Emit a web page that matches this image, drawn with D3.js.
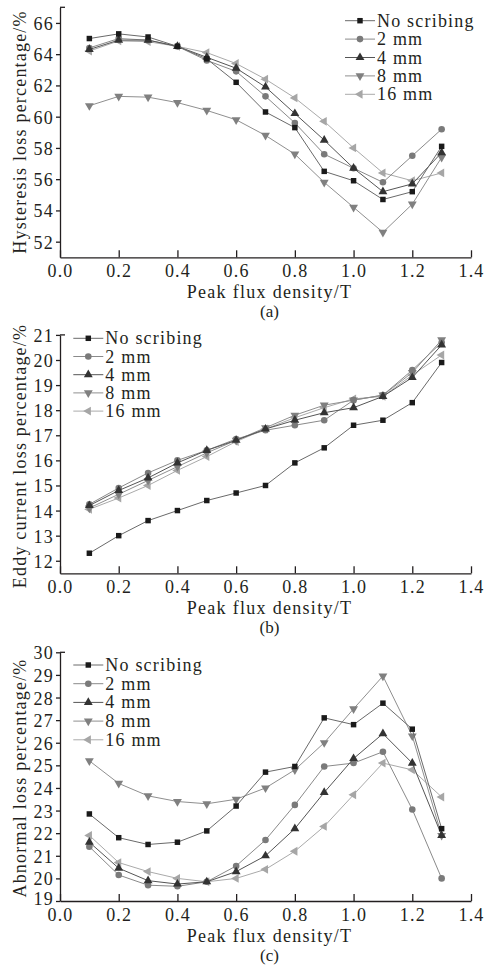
<!DOCTYPE html>
<html>
<head>
<meta charset="utf-8">
<script src="https://cdn.jsdelivr.net/npm/d3@7"></script>
<style>
  body { margin: 0; background: #fff; }
  svg text { font-family: "Liberation Serif", "Times New Roman", serif; fill: #231f20; }
</style>
</head>
<body>
<svg id="chart"></svg>
<script>
const xVals = [0.1, 0.2, 0.3, 0.4, 0.5, 0.6, 0.7, 0.8, 0.9, 1.0, 1.1, 1.2, 1.3];
const xTicks = [0.0, 0.2, 0.4, 0.6, 0.8, 1.0, 1.2, 1.4];
const seriesNames = ["No scribing", "2 mm", "4 mm", "8 mm", "16 mm"];

// (a) hysteresis loss
const hystNone = [65.0, 65.3, 65.1, 64.5, 63.7, 62.2, 60.3, 59.3, 56.5, 55.9, 54.7, 55.2, 58.1];
const hyst2 = [64.4, 65.0, 64.9, 64.5, 63.6, 62.9, 61.3, 59.6, 57.6, 56.7, 55.8, 57.5, 59.2];
const hyst4 = [64.3, 64.9, 64.9, 64.5, 63.8, 63.1, 61.9, 60.2, 58.5, 56.7, 55.2, 55.7, 57.7];
const hyst8 = [60.7, 61.3, 61.25, 60.9, 60.4, 59.8, 58.8, 57.6, 55.8, 54.2, 52.6, 54.4, 57.4];
const hyst16 = [64.2, 64.85, 64.8, 64.5, 64.1, 63.4, 62.4, 61.2, 59.7, 58.0, 56.4, 55.9, 56.4];
const hystTicks = [52, 54, 56, 58, 60, 62, 64, 66];

// (b) eddy current loss
const eddyNone = [12.3, 13.0, 13.6, 14.0, 14.4, 14.7, 15.0, 15.9, 16.5, 17.4, 17.6, 18.3, 19.9];
const eddy2 = [14.25, 14.9, 15.5, 16.0, 16.4, 16.85, 17.2, 17.4, 17.6, 18.4, 18.6, 19.6, 20.7];
const eddy4 = [14.2, 14.8, 15.3, 15.9, 16.4, 16.8, 17.25, 17.6, 17.9, 18.1, 18.55, 19.3, 20.6];
const eddy8 = [14.1, 14.65, 15.2, 15.75, 16.3, 16.8, 17.3, 17.8, 18.2, 18.4, 18.6, 19.5, 20.8];
const eddy16 = [14.05, 14.5, 15.0, 15.6, 16.15, 16.75, 17.25, 17.7, 18.1, 18.45, 18.55, 19.4, 20.2];
const eddyTicks = [12, 13, 14, 15, 16, 17, 18, 19, 20, 21];

// (c) abnormal loss
const abnNone = [22.85, 21.8, 21.5, 21.6, 22.1, 23.2, 24.7, 24.95, 27.1, 26.8, 27.75, 26.6, 22.2];
const abn2 = [21.4, 20.15, 19.7, 19.65, 19.85, 20.55, 21.7, 23.25, 24.95, 25.1, 25.6, 23.05, 20.0];
const abn4 = [21.6, 20.45, 19.9, 19.75, 19.85, 20.3, 21.0, 22.2, 23.8, 25.3, 26.4, 25.1, 21.9];
const abn8 = [25.2, 24.2, 23.65, 23.4, 23.3, 23.5, 24.0, 24.8, 26.0, 27.5, 28.95, 26.3, 21.9];
const abn16 = [21.9, 20.7, 20.3, 20.0, 19.85, 20.0, 20.4, 21.2, 22.3, 23.7, 25.1, 24.8, 23.6];
const abnTicks = [19, 20, 21, 22, 23, 24, 25, 26, 27, 28, 29, 30];

const W = 486, H = 967;
const left = 60, right = 471;

const svg = d3.select("#chart").attr("width", W).attr("height", H);

// marker style per series
const styles = [
  { sym: d3.symbolSquare, rot: 0, fill: "#1a1a1a", line: "#6a6a6a", size: 30 },
  { sym: d3.symbolCircle, rot: 0, fill: "#7a7a7a", line: "#8a8a8a", size: 34 },
  { sym: d3.symbolTriangle, rot: 0, fill: "#333", line: "#555", size: 34 },
  { sym: d3.symbolTriangle, rot: 180, fill: "#808080", line: "#8f8f8f", size: 34 },
  { sym: d3.symbolTriangle, rot: -90, fill: "#a6a6a6", line: "#aaa", size: 34 }
];

const x = d3.scaleLinear().domain([0, 1.4]).range([left, right]);

function drawPanel(p) {
  const y = d3.scaleLinear().domain(p.domain).range([p.bottom, p.top]);
  const g = svg.append("g");

  // axes
  const xAxis = g.append("g")
    .attr("transform", `translate(0,${p.bottom})`)
    .call(d3.axisBottom(x).tickValues(xTicks).tickFormat(d3.format(".1f"))
      .tickSizeInner(-7).tickSizeOuter(0).tickPadding(7));
  const yAxis = g.append("g")
    .attr("transform", `translate(${left},0)`)
    .call(d3.axisLeft(y).tickValues(p.ticks).tickSizeInner(4).tickSizeOuter(0).tickPadding(2));

  [xAxis, yAxis].forEach(a => {
    a.selectAll("path, line").attr("stroke", "#231f20").attr("stroke-width", 1.3);
    a.selectAll("text").style("font-size", "18px").attr("letter-spacing", "1.2px")
      .style("font-family", "'Liberation Serif', serif").attr("fill", "#231f20");
  });
  yAxis.selectAll(".tick text").attr("dy", "0.36em");
  // lowest y label sits right on the x axis; lift it a little off the x labels
  yAxis.selectAll(".tick text").filter(d => d === p.domain[0]).attr("dy", "0.18em");

  // small stub at top of the y axis
  g.append("line")
    .attr("x1", left).attr("x2", left + 5)
    .attr("y1", p.top).attr("y2", p.top)
    .attr("stroke", "#231f20").attr("stroke-width", 1.3);

  // titles
  g.append("text")
    .attr("x", (left + right) / 2 + 4).attr("y", p.bottom + 40.5)
    .attr("text-anchor", "middle").style("font-size", "18px").attr("letter-spacing", "1.3px")
    .text("Peak flux density/T");
  g.append("text")
    .attr("x", (left + right) / 2 + 4).attr("y", p.bottom + 60)
    .attr("text-anchor", "middle").style("font-size", "17px")
    .text(p.caption);
  g.append("text")
    .attr("transform", `translate(26,${p.titleY}) rotate(-90)`)
    .attr("text-anchor", "middle").style("font-size", "18px").attr("letter-spacing", "1.2px")
    .text(p.ytitle);

  const line = d3.line().x((d, i) => x(xVals[i])).y(d => y(d));

  // draw lighter series first so "No scribing" sits on top
  const order = [4, 3, 1, 2, 0];
  order.forEach(k => {
    const vals = p.series[k];
    const s = styles[k];
    g.append("path")
      .attr("d", line(vals))
      .attr("fill", "none")
      .attr("stroke", s.line)
      .attr("stroke-width", 1);
    g.selectAll(null)
      .data(vals)
      .enter()
      .append("path")
      .attr("d", d3.symbol().type(s.sym).size(s.size))
      .attr("transform", (d, i) => `translate(${x(xVals[i])},${y(d)}) rotate(${s.rot})`)
      .attr("fill", s.fill);
  });

  // legend
  const leg = g.append("g");
  seriesNames.forEach((name, k) => {
    const s = styles[k];
    const ly = p.legY + k * p.legStep;
    leg.append("line")
      .attr("x1", p.legX - 15).attr("x2", p.legX + 15)
      .attr("y1", ly).attr("y2", ly)
      .attr("stroke", s.line).attr("stroke-width", 1);
    leg.append("path")
      .attr("d", d3.symbol().type(s.sym).size(s.size))
      .attr("transform", `translate(${p.legX},${ly}) rotate(${s.rot})`)
      .attr("fill", s.fill);
    leg.append("text")
      .attr("x", p.legX + 17).attr("y", ly + 6)
      .style("font-size", "18px").attr("letter-spacing", "1.2px")
      .text(name);
  });
}

drawPanel({
  top: 7.3, bottom: 257.3, domain: [51, 67], ticks: hystTicks,
  series: [hystNone, hyst2, hyst4, hyst8, hyst16],
  ytitle: "Hysteresis loss percentage/%", titleY: 132, caption: "(a)",
  legX: 360, legY: 20.7, legStep: 18.4
});

drawPanel({
  top: 334.9, bottom: 573.3, domain: [11.5, 21], ticks: eddyTicks,
  series: [eddyNone, eddy2, eddy4, eddy8, eddy16],
  ytitle: "Eddy current loss percentage/%", titleY: 456, caption: "(b)",
  legX: 88.3, legY: 338.3, legStep: 18.2
});

drawPanel({
  top: 652.3, bottom: 901, domain: [19, 30], ticks: abnTicks,
  series: [abnNone, abn2, abn4, abn8, abn16],
  ytitle: "Abnormal loss percentage/%", titleY: 778, caption: "(c)",
  legX: 88.3, legY: 665, legStep: 18.7
});
</script>
</body>
</html>
